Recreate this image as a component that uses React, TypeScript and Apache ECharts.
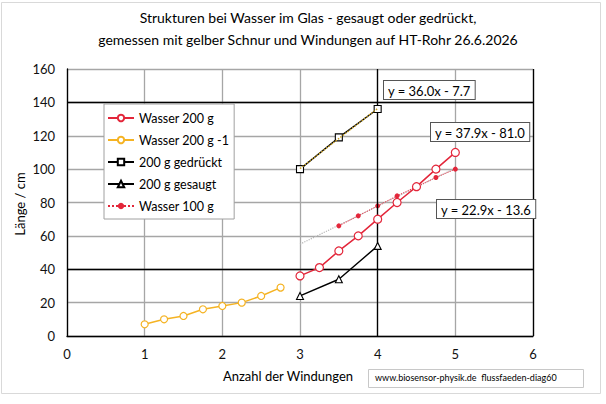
import React, { useEffect, useRef } from "react";
import * as echarts from "echarts";

const titleLines = [
  "Strukturen bei Wasser im Glas - gesaugt oder gedrückt,",
  "gemessen mit gelber Schnur und Windungen auf HT-Rohr 26.6.2026",
];
const xAxisTitle = "Anzahl der Windungen";
const yAxisTitle = "Länge / cm";
const footer = "www.biosensor-physik.de  flussfaeden-diag60";

const seriesNames = ["Wasser 200 g", "Wasser 200 g -1", "200 g gedrückt", "200 g gesaugt", "Wasser 100 g"];

const xWasser200 = [3, 3.25, 3.5, 3.75, 4, 4.25, 4.5, 4.75, 5];
const yWasser200 = [36, 41, 51, 60, 70, 80, 89.5, 100, 110];
const xWasser200b = [1, 1.25, 1.5, 1.75, 2, 2.25, 2.5, 2.75];
const yWasser200b = [7, 10, 12, 16, 18, 20, 24, 29];
const xGedrueckt = [3, 3.5, 4];
const yGedrueckt = [100, 119, 136];
const xGesaugt = [3, 3.5, 4];
const yGesaugt = [24, 34, 54];
const xWasser100 = [3.5, 3.75, 4, 4.25, 4.5, 4.75, 5];
const yWasser100 = [66, 72, 78, 84, 89.5, 95, 100];

const trendLabels = ["y = 36.0x - 7.7", "y = 37.9x - 81.0", "y = 22.9x - 13.6"];
const trend100Range = [3, 5];

const FONT = "Lato";

function pairs(xs: number[], ys: number[]) {
  return xs.map((x, i) => [x, ys[i]]);
}

function regression(xs: number[], ys: number[]) {
  const n = xs.length;
  const mx = xs.reduce((a, b) => a + b, 0) / n;
  const my = ys.reduce((a, b) => a + b, 0) / n;
  let sxy = 0, sxx = 0;
  for (let i = 0; i < n; i++) {
    sxy += (xs[i] - mx) * (ys[i] - my);
    sxx += (xs[i] - mx) * (xs[i] - mx);
  }
  const k = sxy / sxx;
  return { k, d: my - k * mx };
}

export default function App() {
  const ref = useRef<HTMLDivElement>(null);
  useEffect(() => {
    if (!ref.current) return;
    const chart = echarts.init(ref.current, undefined, { renderer: "svg" });
    const RED = "#e3263a";
    const YEL = "#f5b323";
    const GRID_GRAY = "#a6a6a6";

    const rG = regression(xGedrueckt, yGedrueckt);
    const r100 = regression(xWasser100, yWasser100);
    const trendG = [xGedrueckt[0], xGedrueckt[xGedrueckt.length - 1]].map((x) => [x, rG.k * x + rG.d]);
    const trend100 = trend100Range.map((x) => [x, r100.k * x + r100.d]);

    const boxText = (text: string, x: number, y: number) => ({
      type: "text",
      left: x,
      top: y,
      z: 50,
      style: {
        text,
        font: `13px ${FONT}`,
        fill: "#000",
        backgroundColor: "#fff",
        borderColor: "#555",
        borderWidth: 1,
        padding: [3, 4, 2, 4],
      },
    });

    chart.setOption({
      animation: false,
      backgroundColor: "#fff",
      grid: { left: 67, right: 73, top: 69, bottom: 68 },
      xAxis: {
        type: "value",
        min: 0,
        max: 6,
        interval: 1,
        axisLine: { show: true, onZero: false, lineStyle: { color: "#000", width: 1.3 } },
        axisTick: { show: false },
        axisLabel: { color: "#111", fontFamily: FONT, fontSize: 13, margin: 11 },
        splitLine: { show: true, lineStyle: { color: GRID_GRAY, width: 1.3 } },
      },
      yAxis: {
        type: "value",
        min: 0,
        max: 160,
        interval: 20,
        axisLine: { show: true, onZero: false, lineStyle: { color: "#000", width: 1.3 } },
        axisTick: { show: false },
        axisLabel: { color: "#111", fontFamily: FONT, fontSize: 13, margin: 12 },
        splitLine: { show: true, lineStyle: { color: GRID_GRAY, width: 1.3 } },
      },
      legend: {
        data: seriesNames,
        orient: "vertical",
        left: 104,
        top: 104,
        itemWidth: 26,
        itemHeight: 8,
        itemGap: 6,
        padding: [6, 5, 5, 3],
        backgroundColor: "#fff",
        borderColor: "#a0a0a0",
        borderWidth: 1,
        textStyle: { fontFamily: FONT, fontSize: 12.5, color: "#000", lineHeight: 16 },
        z: 40,
      },
      series: [
        {
          name: "_grid",
          type: "line",
          data: [],
          z: 1,
          silent: true,
          markLine: {
            silent: true,
            symbol: "none",
            label: { show: false },
            lineStyle: { color: "#000", width: 1.3, type: "solid" },
            data: [{ xAxis: 4 }, { xAxis: 6 }, { yAxis: 140 }, { yAxis: 40 }],
          },
        },
        {
          name: seriesNames[0],
          type: "line",
          data: pairs(xWasser200, yWasser200),
          symbol: "circle",
          symbolSize: 8,
          lineStyle: { color: RED, width: 1.5 },
          itemStyle: { color: "#fff", borderColor: RED, borderWidth: 1.2 },
          color: RED,
          z: 5,
        },
        {
          name: seriesNames[1],
          type: "line",
          data: pairs(xWasser200b, yWasser200b),
          symbol: "circle",
          symbolSize: 7,
          lineStyle: { color: YEL, width: 1.5 },
          itemStyle: { color: "#fff", borderColor: YEL, borderWidth: 1.2 },
          color: YEL,
          z: 5,
        },
        {
          name: seriesNames[2],
          type: "line",
          data: pairs(xGedrueckt, yGedrueckt),
          symbol: "rect",
          symbolSize: 7,
          lineStyle: { color: "#000", width: 1.4 },
          itemStyle: { color: "#fff", borderColor: "#000", borderWidth: 1.1 },
          color: "#000",
          z: 5,
        },
        {
          name: seriesNames[3],
          type: "line",
          data: pairs(xGesaugt, yGesaugt),
          symbol: "triangle",
          symbolSize: 7,
          lineStyle: { color: "#000", width: 1.4 },
          itemStyle: { color: "#fff", borderColor: "#000", borderWidth: 1.1 },
          color: "#000",
          z: 5,
        },
        {
          name: seriesNames[4],
          type: "line",
          data: pairs(xWasser100, yWasser100),
          symbol: "circle",
          symbolSize: 5,
          lineStyle: { color: RED, width: 1, type: "dotted" },
          itemStyle: { color: RED, borderColor: RED, borderWidth: 0 },
          color: RED,
          z: 4,
        },
        {
          name: "trend gedrückt",
          type: "line",
          data: trendG,
          symbol: "none",
          lineStyle: { color: "#c9a227", width: 1.5, type: "dotted" },
          z: 6,
          silent: true,
        },
        {
          name: "trend 100",
          type: "line",
          data: trend100,
          symbol: "none",
          lineStyle: { color: "#b5b5b5", width: 1.2, type: "dotted" },
          z: 3,
          silent: true,
        },
      ],
      graphic: [
        {
          type: "rect",
          shape: { x: 1.5, y: 2.5, width: 599, height: 391 },
          style: { fill: "none", stroke: "#d9d9d9", lineWidth: 1 },
          z: -1,
        },
        {
          type: "text",
          x: 308,
          y: 10,
          style: { text: titleLines[0], font: `14px ${FONT}`, fill: "#000", align: "center" },
        },
        {
          type: "text",
          x: 308,
          y: 32,
          style: { text: titleLines[1], font: `14px ${FONT}`, fill: "#000", align: "center" },
        },
        {
          type: "text",
          x: 288,
          y: 369,
          style: { text: xAxisTitle, font: `13px ${FONT}`, fill: "#000", align: "center" },
        },
        {
          type: "text",
          x: 13,
          y: 204,
          rotation: Math.PI / 2,
          style: { text: yAxisTitle, font: `13px ${FONT}`, fill: "#000", align: "center" },
        },
        boxText(trendLabels[0], 383, 80),
        boxText(trendLabels[1], 430, 122),
        boxText(trendLabels[2], 436, 199),
        {
          type: "rect",
          shape: { x: 368.5, y: 369.5, width: 215, height: 18 },
          style: { fill: "#fff", stroke: "#c8c8c8", lineWidth: 1 },
        },
        {
          type: "text",
          x: 375,
          y: 373,
          style: { text: footer, font: `9px ${FONT}`, fill: "#000" },
        },
      ],
    });
    return () => chart.dispose();
  }, []);
  return (
    <div style={{ position: "fixed", left: 0, top: 0, width: 606, height: 404, background: "#fff" }}>
      <div ref={ref} style={{ width: 606, height: 404 }} />
    </div>
  );
}
